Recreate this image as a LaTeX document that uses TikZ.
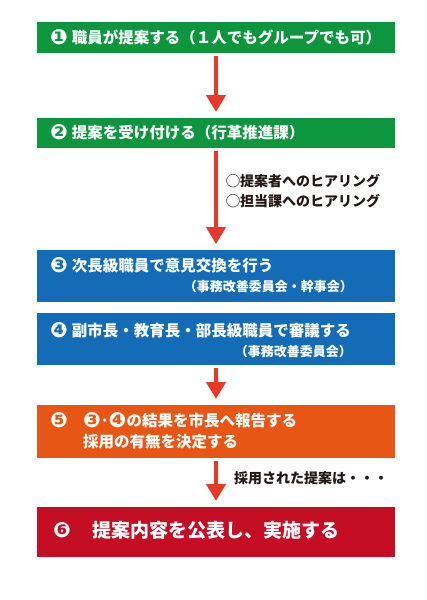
\documentclass[tikz,border=0pt]{standalone}
\usepackage{fontspec}
\usetikzlibrary{arrows.meta}
\newfontfamily\jp{Noto Sans CJK JP}
\newfontfamily\dv{DejaVu Sans}
\definecolor{stepgreen}{RGB}{14,150,62}
\definecolor{stepblue}{RGB}{20,108,182}
\definecolor{steporange}{RGB}{232,86,22}
\definecolor{stepred}{RGB}{196,14,36}
\definecolor{arrowred}{RGB}{232,56,40}
\definecolor{inkdark}{RGB}{35,24,21}
\newcommand{\fs}[1]{\fontsize{#1}{#1}\selectfont}
\newcommand{\cnum}[1]{{\dv\fs{21}\raisebox{-1.2pt}{#1}}}

\begin{document}
\begin{tikzpicture}[x=1pt,y=-1pt,
    box/.style={minimum width=358pt,inner sep=0pt,outer sep=0pt},
    head/.style={anchor=west,inner sep=0pt,text=white,font=\jp\bfseries\fs{15.5}},
    sub/.style={anchor=east,inner sep=0pt,text=white,font=\jp\bfseries\fs{13}},
    side/.style={anchor=west,inner sep=0pt,text=inkdark,font=\jp\bfseries\fs{14}},
    flow/.style={arrowred,line width=4.5pt,-{Triangle[width=19pt,length=17pt]},
      shorten <=3pt,shorten >=6pt}]
    \useasboundingbox[fill=white] (0,0) rectangle (427,600);
    \node[box,fill=stepgreen,minimum height=31pt] (b1) at (216,37.5) {};
    \node[box,fill=stepgreen,minimum height=30pt] (b2) at (216,133) {};
    \node[box,fill=stepblue,minimum height=52pt] (b3) at (216,276) {};
    \node[box,fill=stepblue,minimum height=52pt] (b4) at (216,339) {};
    \node[box,fill=steporange,minimum height=53pt] (b5) at (216,431.5) {};
    \node[box,fill=stepred,minimum height=50pt] (b6) at (216,532) {};
    \node[head] (t1) at (50,37.5) {\cnum{❶}\hspace{4pt}職員が提案する（１人でもグループでも可）};
    \node[head] (t2) at (50,132) {\cnum{❷}\hspace{4pt}提案を受け付ける（行革推進課）};
    \node[head] (t3) at (50,265) {\cnum{❸}\hspace{4pt}次長級職員で意見交換を行う};
    \node[sub] (s3) at (353,287) {（事務改善委員会・幹事会）};
    \node[head] (t4) at (50,330) {\cnum{❹}\hspace{4pt}副市長・教育長・部長級職員で審議する};
    \node[sub] (s4) at (352,352) {（事務改善委員会）};
    \node[head] (n5) at (50,420) {\cnum{❺}};
    \node[head,align=left] (t5) at (83,431) {\cnum{❸}･\cnum{❹}の結果を市長へ報告する\\[6pt]採用の有無を決定する};
    \node[head] (n6) at (53,530) {\cnum{❻}};
    \node[head,font=\jp\bfseries\fs{19}] (t6) at (92,530) {提案内容を公表し、実施する};
    \draw[flow] (b1.south) -- (b2.north);
    \draw[flow] (b2.south) -- (b3.north);
    \draw[flow] (b4.south) -- (b5.north);
    \draw[flow] (b5.south) -- (b6.north);
    \node[side] (h1) at (226,181) {◯提案者へのヒアリング};
    \node[side] (h2) at (226,201) {◯担当課へのヒアリング};
    \node[side] (h3) at (234,478) {採用された提案は・・・};
\end{tikzpicture}
\end{document}
